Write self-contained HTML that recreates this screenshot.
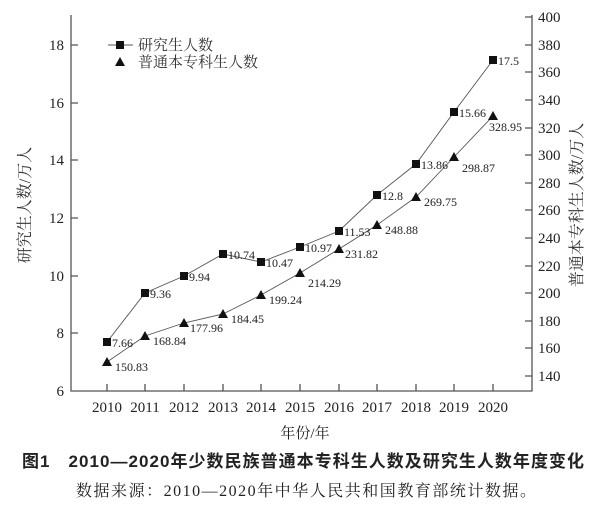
<!DOCTYPE html>
<html><head><meta charset="utf-8"><style>
html,body{margin:0;padding:0;background:#fff;}
svg{display:block;font-family:"Liberation Serif","Noto Serif CJK SC",serif;}
</style></head><body>
<svg width="611" height="523" viewBox="0 0 611 523" xmlns="http://www.w3.org/2000/svg">
<g stroke="#555" stroke-width="1.3" fill="none">
<path d="M71,15 V391 H532 V15"/>
<path d="M71,45h7M71,103h7M71,160h7M71,218h7M71,276h7M71,333h7"/>
<path d="M532,17h-7M532,45h-7M532,72h-7M532,100h-7M532,128h-7M532,155h-7M532,183h-7M532,210h-7M532,238h-7M532,266h-7M532,293h-7M532,321h-7M532,348h-7M532,376h-7"/>
<path d="M107,391v-7M145,391v-7M184,391v-7M223,391v-7M261,391v-7M300,391v-7M339,391v-7M377,391v-7M416,391v-7M454,391v-7M493,391v-7"/>
</g>
<g font-size="15" fill="#222" text-anchor="end">
<text x="64" y="50">18</text><text x="64" y="108">16</text><text x="64" y="165">14</text><text x="64" y="223">12</text><text x="64" y="281">10</text><text x="64" y="338">8</text><text x="64" y="396">6</text>
</g>
<g font-size="15" fill="#222">
<text x="538" y="22">400</text><text x="538" y="50">380</text><text x="538" y="77">360</text><text x="538" y="105">340</text><text x="538" y="133">320</text><text x="538" y="160">300</text><text x="538" y="188">280</text><text x="538" y="215">260</text><text x="538" y="243">240</text><text x="538" y="271">220</text><text x="538" y="298">200</text><text x="538" y="326">180</text><text x="538" y="353">160</text><text x="538" y="381">140</text>
</g>
<g font-size="15" fill="#222" text-anchor="middle">
<text x="107" y="412">2010</text><text x="145" y="412">2011</text><text x="184" y="412">2012</text><text x="223" y="412">2013</text><text x="261" y="412">2014</text><text x="300" y="412">2015</text><text x="339" y="412">2016</text><text x="377" y="412">2017</text><text x="416" y="412">2018</text><text x="454" y="412">2019</text><text x="493" y="412">2020</text>
<text x="305" y="438" font-size="15">年份/年</text>
</g>
<text transform="translate(30,205) rotate(-90)" font-size="16" fill="#333" text-anchor="middle">研究生人数/万人</text>
<text transform="translate(582,205) rotate(-90)" font-size="16" fill="#333" text-anchor="middle">普通本专科生人数/万人</text>
<g stroke="#555" stroke-width="0.9" fill="none">
<polyline points="107,342 145,293 184,276 223,254 261,262 300,247 339,231 377,195 416,164 454,112 493,60"/>
<polyline points="107,362 145,336 184,323 223,314 261,295 300,273 339,249 377,225 416,197 454,157 493,116"/>
<path d="M108,45h25"/>
</g>
<g fill="#111">
<rect x="103" y="338" width="8" height="8"/><rect x="141" y="289" width="8" height="8"/><rect x="180" y="272" width="8" height="8"/><rect x="219" y="250" width="8" height="8"/><rect x="257" y="258" width="8" height="8"/><rect x="296" y="243" width="8" height="8"/><rect x="335" y="227" width="8" height="8"/><rect x="373" y="191" width="8" height="8"/><rect x="412" y="160" width="8" height="8"/><rect x="450" y="108" width="8" height="8"/><rect x="489" y="56" width="8" height="8"/>
<rect x="116" y="41" width="8" height="8"/>
<path d="M107,357l5,9h-10z"/><path d="M145,331l5,9h-10z"/><path d="M184,318l5,9h-10z"/><path d="M223,309l5,9h-10z"/><path d="M261,290l5,9h-10z"/><path d="M300,268l5,9h-10z"/><path d="M339,244l5,9h-10z"/><path d="M377,220l5,9h-10z"/><path d="M416,192l5,9h-10z"/><path d="M454,152l5,9h-10z"/><path d="M493,111l5,9h-10z"/>
<path d="M120,57l5,9h-10z"/>
</g>
<g font-size="12" fill="#222">
<text x="112" y="347">7.66</text><text x="150" y="298">9.36</text><text x="189" y="281">9.94</text><text x="228" y="259">10.74</text><text x="266" y="267">10.47</text><text x="305" y="252">10.97</text><text x="344" y="236">11.53</text><text x="382" y="200">12.8</text><text x="421" y="169">13.86</text><text x="459" y="117">15.66</text><text x="498" y="65">17.5</text>
<text x="115" y="371">150.83</text><text x="153" y="345">168.84</text><text x="190" y="332">177.96</text><text x="231" y="323">184.45</text><text x="269" y="304">199.24</text><text x="308" y="287">214.29</text><text x="345" y="258">231.82</text><text x="385" y="234">248.88</text><text x="424" y="206">269.75</text><text x="462" y="172">298.87</text><text x="489" y="131">328.95</text>
</g>
<g font-size="15" fill="#333">
<text x="138" y="50">研究生人数</text><text x="138" y="67">普通本专科生人数</text>
</g>
<text x="22" y="467" font-size="17" font-weight="bold" fill="#222" textLength="562" lengthAdjust="spacing" font-family="Liberation Sans,Noto Sans CJK SC,sans-serif">图1　2010—2020年少数民族普通本专科生人数及研究生人数年度变化</text>
<text x="76" y="496" font-size="16" fill="#222" textLength="460" lengthAdjust="spacing">数据来源：2010—2020年中华人民共和国教育部统计数据。</text>
</svg>
</body></html>
